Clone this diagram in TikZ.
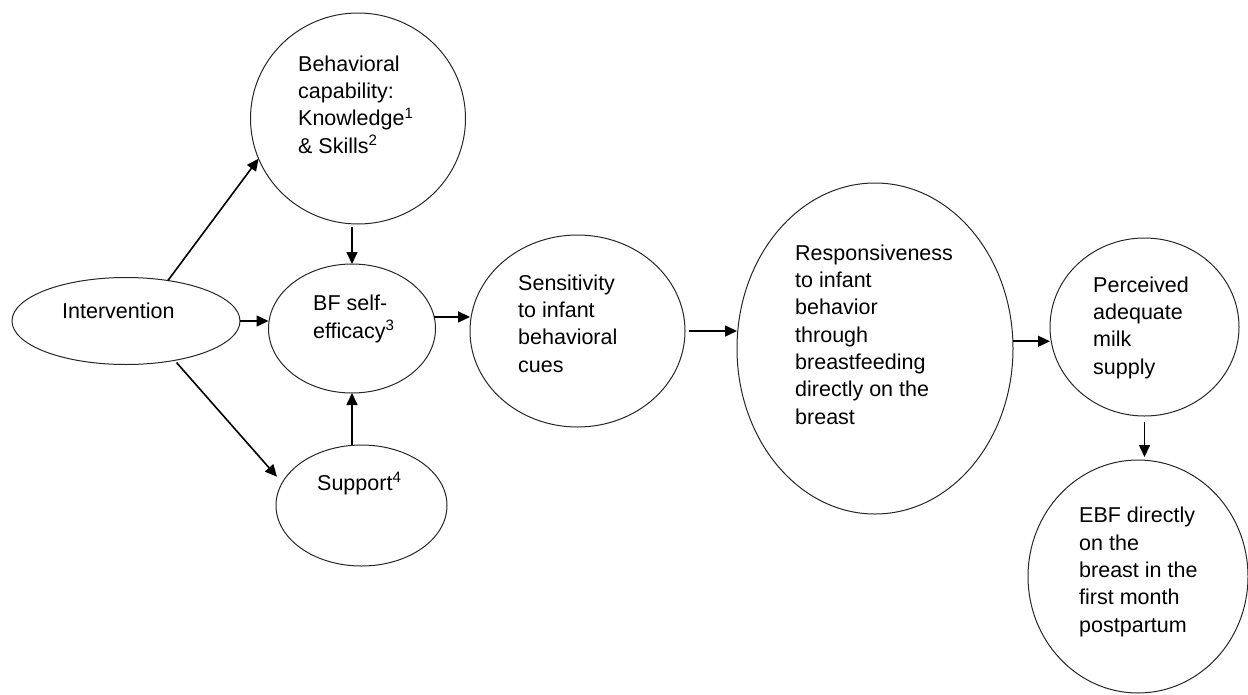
\documentclass[tikz,border=0pt]{standalone}
\usepackage{fontspec}
\setmainfont{Liberation Sans}
\usetikzlibrary{shapes.geometric,arrows.meta,calc}
\begin{document}
\begin{tikzpicture}[x=1pt,y=-1pt,
  oval/.style={draw=black!85, line width=1pt, ellipse, inner sep=0pt, outer sep=0pt},
  lbl/.style={anchor=base west, inner sep=0pt, align=left, font=\fontsize{21.5}{27.3}\selectfont},
  arr/.style={draw=black, line width=1.6pt, -{Triangle[length=12pt,width=11pt]}}]
\useasboundingbox (0,0) rectangle (1248,694);

% text nodes are anchored at the baseline of their last line
\node[oval, minimum width=228pt, minimum height=87pt] (interv) at (126,321) {};
\node[lbl] (interv-t) at (62,318) {Intervention};

\node[oval, minimum width=215pt, minimum height=211pt] (behav) at (358,118.5) {};
\node[lbl] (behav-t) at (298,153) {Behavioral\\capability:\\Knowledge\textsuperscript{1}\\\& Skills\textsuperscript{2}};

\node[oval, minimum width=167pt, minimum height=129pt] (bf) at (352,328.5) {};
\node[lbl] (bf-t) at (313,338) {BF self-\\efficacy\textsuperscript{3}};

\node[oval, minimum width=171pt, minimum height=121pt] (sup) at (361.5,505.5) {};
\node[lbl] (sup-t) at (317,490) {Support\textsuperscript{4}};

\node[oval, minimum width=215pt, minimum height=192pt] (sens) at (577.5,331) {};
\node[lbl] (sens-t) at (518,372) {Sensitivity\\to infant\\behavioral\\cues};

\node[oval, minimum width=276pt, minimum height=331pt] (resp) at (875,348.5) {};
\node[lbl] (resp-t) at (795,424) {Responsiveness\\to infant\\behavior\\through\\breastfeeding\\directly on the\\breast};

\node[oval, minimum width=189pt, minimum height=178pt] (perc) at (1144.5,327) {};
\node[lbl] (perc-t) at (1093,374) {Perceived\\adequate\\milk\\supply};

\node[oval, minimum width=220pt, minimum height=233pt] (ebf) at (1138,576.5) {};
\node[lbl] (ebf-t) at (1079,632) {EBF directly\\on the\\breast in the\\first month\\postpartum};

\draw[arr] (interv.44) -- (behav.202);
\draw[arr] (interv.east) -- (interv.east -| bf.west);
\draw[arr, shorten <=3pt, shorten >=8pt] (interv.-39) -- (sup.164);
\draw[arr, shorten <=3pt] (behav.south -| bf.north) -- (bf.north);
\draw[arr] (sup.north -| bf.south) -- (bf.south);
\draw[arr] (bf.8) -- (bf.8 -| sens.west);
\draw[arr, shorten <=4pt] (sens.east) -- (sens.east -| resp.west);
\draw[arr] (resp.3) -- (resp.3 -| perc.west);
\draw[arr, shorten <=6pt, shorten >=3pt] (perc.south) -- (perc.south |- ebf.north);
\end{tikzpicture}
\end{document}
